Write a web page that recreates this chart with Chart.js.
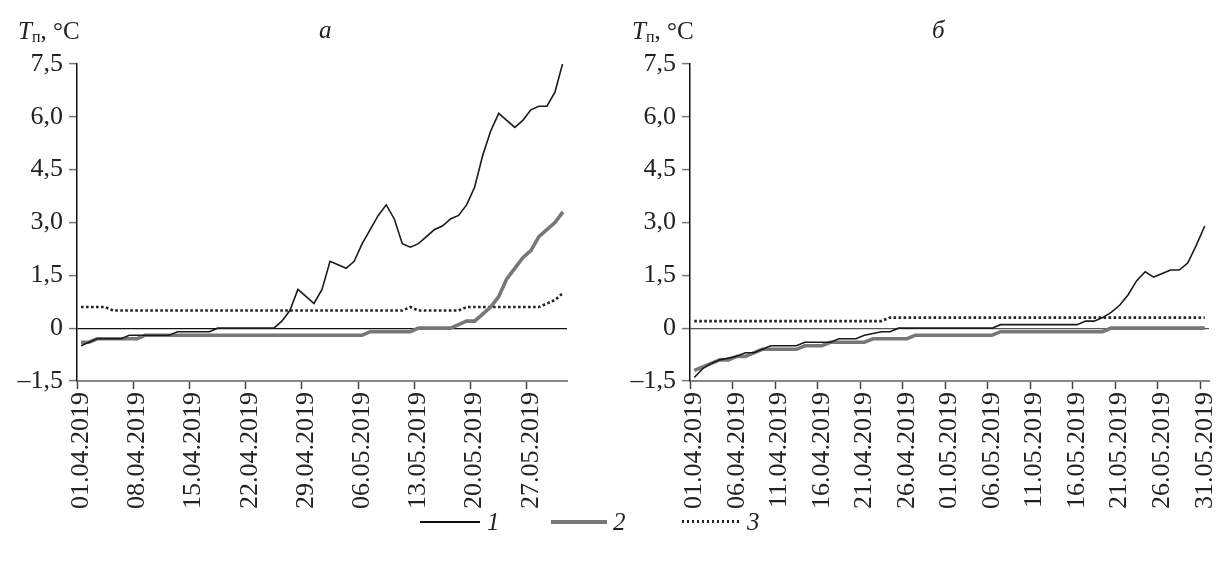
<!DOCTYPE html>
<html>
<head>
<meta charset="utf-8">
<script src="https://cdn.jsdelivr.net/npm/chart.js@4.4.1/dist/chart.umd.min.js"></script>
<style>
  body { margin: 0; background: #fff; font-family: "Liberation Serif", "Times New Roman", serif; color: #222; }
  #wrap { position: relative; width: 1216px; height: 561px; overflow: hidden; }
  canvas { position: absolute; top: 0; }
  .txt { position: absolute; font-size: 25px; line-height: 25px; white-space: nowrap; }
  .txt i { font-style: italic; }
  .txt sub { font-size: 16px; vertical-align: -3px; }
  .ln { position: absolute; }
</style>
</head>
<body>
<div id="wrap">
  <canvas id="chartA" width="600" height="520" style="left:0"></canvas>
  <canvas id="chartB" width="616" height="520" style="left:600px"></canvas>

  <div class="txt" style="left:18px; top:18px"><i>T</i><sub>п</sub>, °C</div>
  <div class="txt" style="left:319px; top:17px"><i>а</i></div>
  <div class="txt" style="left:632px; top:18px"><i>T</i><sub>п</sub>, °C</div>
  <div class="txt" style="left:932px; top:17px"><i>б</i></div>

  <div class="ln" style="left:420px; top:521px; width:60px; height:1.5px; background:#111"></div>
  <div class="txt" style="left:487px; top:509px"><i>1</i></div>
  <div class="ln" style="left:551px; top:520px; width:56px; height:3.5px; background:#777"></div>
  <div class="txt" style="left:613px; top:509px"><i>2</i></div>
  <div class="ln" style="left:682px; top:520px; width:58px; height:2.5px; background:repeating-linear-gradient(to right,#222 0 2.5px,transparent 2.5px 5px)"></div>
  <div class="txt" style="left:747px; top:509px"><i>3</i></div>
</div>
<script>
const dates = [
  "01.04.2019","02.04.2019","03.04.2019","04.04.2019","05.04.2019","06.04.2019","07.04.2019","08.04.2019",
  "09.04.2019","10.04.2019","11.04.2019","12.04.2019","13.04.2019","14.04.2019","15.04.2019","16.04.2019",
  "17.04.2019","18.04.2019","19.04.2019","20.04.2019","21.04.2019","22.04.2019","23.04.2019","24.04.2019",
  "25.04.2019","26.04.2019","27.04.2019","28.04.2019","29.04.2019","30.04.2019","01.05.2019","02.05.2019",
  "03.05.2019","04.05.2019","05.05.2019","06.05.2019","07.05.2019","08.05.2019","09.05.2019","10.05.2019",
  "11.05.2019","12.05.2019","13.05.2019","14.05.2019","15.05.2019","16.05.2019","17.05.2019","18.05.2019",
  "19.05.2019","20.05.2019","21.05.2019","22.05.2019","23.05.2019","24.05.2019","25.05.2019","26.05.2019",
  "27.05.2019","28.05.2019","29.05.2019","30.05.2019","31.05.2019"
];

const yTicks = [-1.5, 0, 1.5, 3.0, 4.5, 6.0, 7.5];

// panel a
const a1 = [-0.5, -0.4, -0.3, -0.3, -0.3, -0.3, -0.2, -0.2, -0.2, -0.2, -0.2, -0.2, -0.1, -0.1, -0.1, -0.1,
  -0.1, 0, 0, 0, 0, 0, 0, 0, 0, 0.2, 0.5, 1.1, 0.9, 0.7, 1.1, 1.9,
  1.8, 1.7, 1.9, 2.4, 2.8, 3.2, 3.5, 3.1, 2.4, 2.3, 2.4, 2.6, 2.8, 2.9, 3.1, 3.2,
  3.5, 4.0, 4.9, 5.6, 6.1, 5.9, 5.7, 5.9, 6.2, 6.3, 6.3, 6.7, 7.55];
const a2 = [-0.4, -0.4, -0.3, -0.3, -0.3, -0.3, -0.3, -0.3, -0.2, -0.2, -0.2, -0.2, -0.2, -0.2, -0.2, -0.2,
  -0.2, -0.2, -0.2, -0.2, -0.2, -0.2, -0.2, -0.2, -0.2, -0.2, -0.2, -0.2, -0.2, -0.2, -0.2, -0.2,
  -0.2, -0.2, -0.2, -0.2, -0.1, -0.1, -0.1, -0.1, -0.1, -0.1, 0, 0, 0, 0, 0, 0.1,
  0.2, 0.2, 0.4, 0.6, 0.9, 1.4, 1.7, 2.0, 2.2, 2.6, 2.8, 3.0, 3.3];
const a3 = [0.6, 0.6, 0.6, 0.6, 0.5, 0.5, 0.5, 0.5, 0.5, 0.5, 0.5, 0.5, 0.5, 0.5, 0.5, 0.5,
  0.5, 0.5, 0.5, 0.5, 0.5, 0.5, 0.5, 0.5, 0.5, 0.5, 0.5, 0.5, 0.5, 0.5, 0.5, 0.5,
  0.5, 0.5, 0.5, 0.5, 0.5, 0.5, 0.5, 0.5, 0.5, 0.6, 0.5, 0.5, 0.5, 0.5, 0.5, 0.5,
  0.6, 0.6, 0.6, 0.6, 0.6, 0.6, 0.6, 0.6, 0.6, 0.6, 0.7, 0.8, 1.0];

// panel б
const b1 = [-1.4, -1.15, -1.0, -0.9, -0.85, -0.8, -0.7, -0.7, -0.6, -0.5, -0.5, -0.5, -0.5, -0.4, -0.4, -0.4,
  -0.4, -0.3, -0.3, -0.3, -0.2, -0.15, -0.1, -0.1, 0, 0, 0, 0, 0, 0, 0, 0,
  0, 0, 0, 0, 0.1, 0.1, 0.1, 0.1, 0.1, 0.1, 0.1, 0.1, 0.1, 0.1, 0.2, 0.2,
  0.3, 0.45, 0.65, 0.95, 1.35, 1.6, 1.45, 1.55, 1.65, 1.65, 1.85, 2.35, 2.9];
const b2 = [-1.2, -1.1, -1.0, -0.9, -0.9, -0.8, -0.8, -0.7, -0.6, -0.6, -0.6, -0.6, -0.6, -0.5, -0.5, -0.5,
  -0.4, -0.4, -0.4, -0.4, -0.4, -0.3, -0.3, -0.3, -0.3, -0.3, -0.2, -0.2, -0.2, -0.2, -0.2, -0.2,
  -0.2, -0.2, -0.2, -0.2, -0.1, -0.1, -0.1, -0.1, -0.1, -0.1, -0.1, -0.1, -0.1, -0.1, -0.1, -0.1,
  -0.1, 0, 0, 0, 0, 0, 0, 0, 0, 0, 0, 0, 0];
const b3 = [0.2, 0.2, 0.2, 0.2, 0.2, 0.2, 0.2, 0.2, 0.2, 0.2, 0.2, 0.2, 0.2, 0.2, 0.2, 0.2,
  0.2, 0.2, 0.2, 0.2, 0.2, 0.2, 0.2, 0.3, 0.3, 0.3, 0.3, 0.3, 0.3, 0.3, 0.3, 0.3,
  0.3, 0.3, 0.3, 0.3, 0.3, 0.3, 0.3, 0.3, 0.3, 0.3, 0.3, 0.3, 0.3, 0.3, 0.3, 0.3,
  0.3, 0.3, 0.3, 0.3, 0.3, 0.3, 0.3, 0.3, 0.3, 0.3, 0.3, 0.3, 0.3];

const serif = "'Liberation Serif', 'Times New Roman', serif";

function fmt(v) {
  if (v === 0) return "0";
  return v.toFixed(1).replace(".", ",").replace("-", "–");
}

function makeChart(id, s1, s2, s3, step, yWidth, padRight, zeroColor) {
  const ctx = document.getElementById(id).getContext("2d");
  return new Chart(ctx, {
    type: "line",
    data: {
      labels: dates,
      datasets: [
        { data: s1, borderColor: "#1a1a1a", borderWidth: 1.6, pointRadius: 0, tension: 0 },
        { data: s2, borderColor: "#777", borderWidth: 3.6, pointRadius: 0, tension: 0 },
        { data: s3, borderColor: "#222", borderWidth: 2.6, borderDash: [2.6, 2.4], pointRadius: 0, tension: 0 }
      ]
    },
    options: {
      responsive: false,
      animation: false,
      layout: { padding: { top: 64, right: padRight, left: 0, bottom: 0 } },
      plugins: { legend: { display: false }, tooltip: { enabled: false } },
      scales: {
        x: {
          type: "category",
          offset: true,
          border: { display: true, color: "#888", width: 2 },
          grid: {
            offset: true,
            drawOnChartArea: false,
            tickLength: 8,
            tickWidth: 1.5,
            tickColor: c => (c.index !== undefined && c.index % step === 0) ? "#444" : "rgba(0,0,0,0)"
          },
          ticks: {
            autoSkip: false,
            minRotation: 90,
            maxRotation: 90,
            padding: 3,
            color: "#222",
            font: { family: serif, size: 26 },
            callback: (v, i) => (i % step === 0 ? dates[i] : "")
          },
          afterFit: s => { s.height = 139; s.paddingLeft = 0; s.paddingRight = 0; }
        },
        y: {
          min: -1.5,
          max: 7.5,
          afterBuildTicks: s => { s.ticks = yTicks.map(v => ({ value: v })); },
          border: { display: true, color: "#111", width: 1.5 },
          grid: {
            tickLength: 8,
            tickWidth: 1.5,
            tickColor: "#777",
            color: c => (c.tick && c.tick.value === 0) ? zeroColor : "rgba(0,0,0,0)",
            lineWidth: 1.2
          },
          ticks: {
            padding: 6,
            color: "#222",
            font: { family: serif, size: 26 },
            callback: v => fmt(v)
          },
          afterFit: s => { s.width = yWidth; }
        }
      }
    }
  });
}

makeChart("chartA", a1, a2, a3, 7, 77, 33, "#111");
makeChart("chartB", b1, b2, b3, 5, 90, 7, "#555");
</script>
</body>
</html>
